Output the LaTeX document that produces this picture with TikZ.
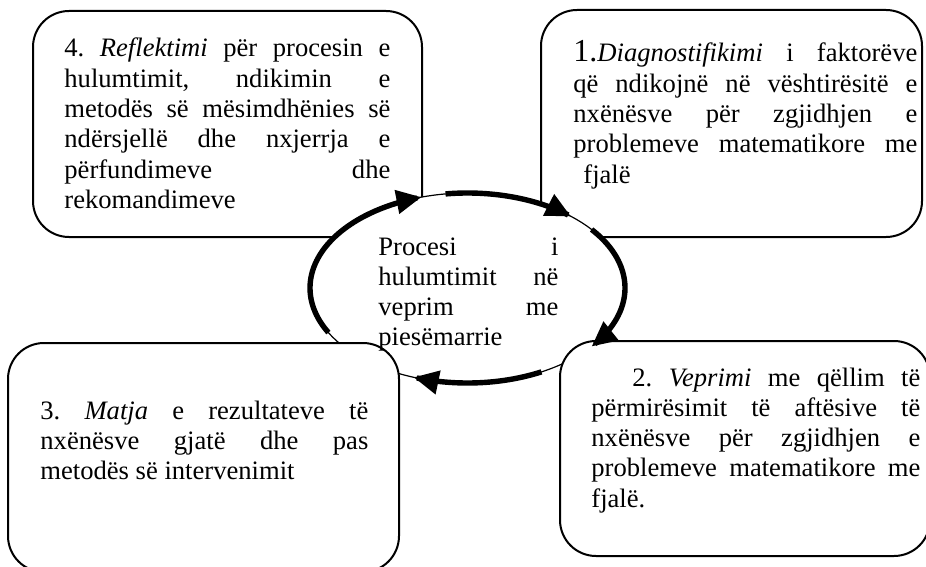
\documentclass[tikz,border=0pt]{standalone}
\usepackage{fontspec}
\setmainfont{Liberation Serif}
\usetikzlibrary{shapes.geometric,arrows.meta}
\frenchspacing
\begin{document}
\begin{tikzpicture}[x=0.5pt,y=-0.5pt,
  box/.style={draw,line width=1pt,rounded corners=18pt,fill=white,inner sep=0pt},
  txt/.style={anchor=base west,inner sep=0pt,align=justify,
    font=\fontsize{13.3}{15.15}\selectfont\frenchspacing},
  cyc/.style={line width=2.7pt,-{Triangle[length=12.5pt,width=11.5pt]}}
]
\useasboundingbox (0,0) rectangle (926,567);
% upper boxes (below the ellipse)
\node[box,minimum width=194.5pt,minimum height=113pt] (b4) at (227.5,124) {};
\node[box,minimum width=190.5pt,minimum height=113.5pt] (b1) at (731.5,123.5) {};
\node[txt,text width=163pt] (t4) at (64,57) {4. \textit{Reflektimi} për procesin e\linebreak
hulumtimit, ndikimin e\linebreak
metodës së mësimdhënies së\linebreak
ndërsjellë dhe nxjerrja e\linebreak
përfundimeve dhe\linebreak
rekomandimeve};
\node[txt,text width=172pt] (t1) at (573,62) {{\fontsize{16}{15.15}\selectfont 1.}\textit{Diagnostifikimi} i faktorëve\linebreak
që ndikojnë në vështirësitë e\linebreak
nxënësve për zgjidhjen e\linebreak
problemeve matematikore me\linebreak
\hspace*{5pt}fjalë};
% central ellipse
\node[ellipse,draw,line width=0.6pt,fill=white,minimum width=157.5pt,minimum height=95pt,inner sep=0pt] (c) at (467.5,288) {};
% lower boxes (above the ellipse)
\node[box,minimum width=195.5pt,minimum height=114.5pt] (b3) at (203.5,457.5) {};
\node[box,minimum width=185pt,minimum height=107.5pt] (b2) at (745,448.5) {};
\node[txt,text width=164pt] (t3) at (40,419) {3. \textit{Matja} e rezultateve të\linebreak
nxënësve gjatë dhe pas\linebreak
metodës së intervenimit};
\node[txt,text width=164.5pt] (t2) at (591,386) {\hspace*{20.5pt}2. \textit{Veprimi} me qëllim të\linebreak
përmirësimit të aftësive të\linebreak
nxënësve për zgjidhjen e\linebreak
problemeve matematikore me\linebreak
fjalë.};
\node[txt,text width=90pt] (tc) at (378,255) {Procesi i\linebreak
hulumtimit në\linebreak
veprim me\linebreak
piesëmarrie};
% cycle arrows
\draw[cyc] plot[domain=98:49,samples=40] ({467.5+157.5*cos(\x)},{288-95*sin(\x)});
\draw[cyc] plot[domain=38:-38,samples=40] ({467.5+157.5*cos(\x)},{288-95*sin(\x)});
\draw[cyc] plot[domain=-62:-110,samples=40] ({467.5+157.5*cos(\x)},{288-95*sin(\x)});
\draw[cyc] plot[domain=208:107,samples=60] ({467.5+157.5*cos(\x)},{288-95*sin(\x)});
\end{tikzpicture}
\end{document}
